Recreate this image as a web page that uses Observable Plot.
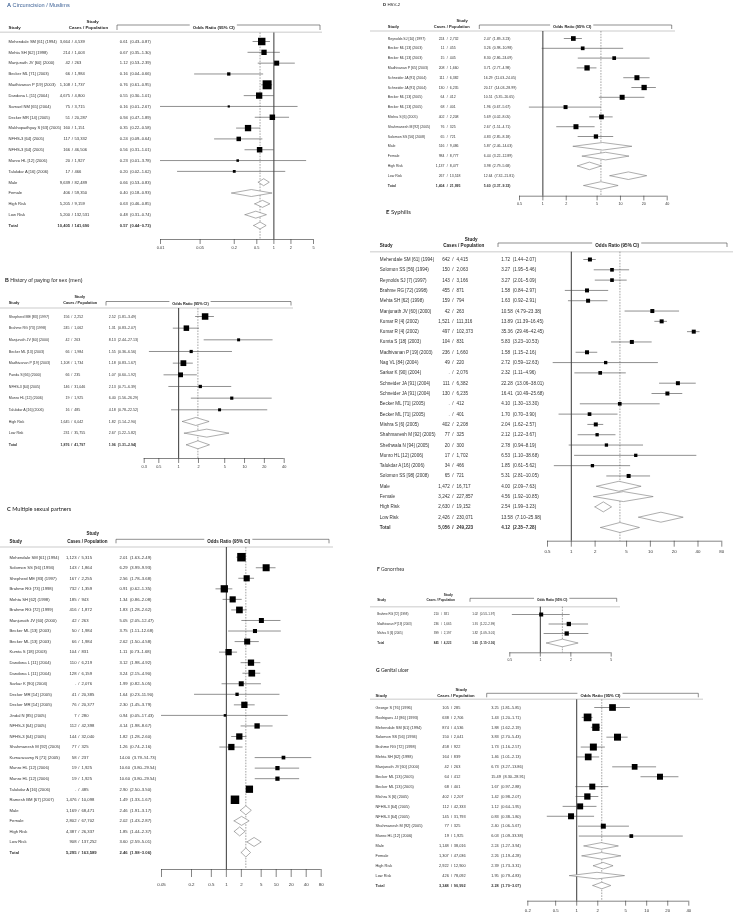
<!DOCTYPE html>
<html><head><meta charset="utf-8">
<script src="https://cdn.jsdelivr.net/npm/d3@7"></script>
<script src="https://cdn.jsdelivr.net/npm/@observablehq/plot@0.6"></script>
<style>
body{margin:0;background:#fff;}
#page{position:relative;width:736px;height:916px;overflow:hidden;font-family:"Liberation Sans",Arial,sans-serif;}
.title{position:absolute;white-space:nowrap;line-height:1;color:#222;will-change:transform;}
.panel{position:absolute;will-change:transform;}
.panel svg{overflow:visible;}
</style></head><body><div id="page"></div>
<script>
// ---------- A Circumcision / Muslims ----------
const aStudy = ["Mehendale SM [61] (1994)","Mehta SH [62] (1998)","Manjunath JV [60] (2000)","Becker ML [71] (2003)","Madhivanan P [19] (2003)","Dandona L [11] (2004)","Samuel NM [65] (2004)","Decker MR [14] (2005)","Mukhopadhyay S [63] (2005)","NFHS-3 [64] (2005)","NFHS-3 [64] (2005)","Munro HL [12] (2006)","Talukdar A [16] (2006)","Male","Female","High Risk","Low Risk","Total"];
const aCases = [3664,214,42,66,1108,4675,75,51,160,117,166,20,17,9639,406,5205,5200,10405];
const aPop = [4539,1003,263,1984,1737,4800,3715,20287,1151,53332,46506,1927,466,82489,59350,9159,132531,141690];
const aOR = [0.61,0.67,1.12,0.16,0.76,0.55,0.16,0.94,0.35,0.24,0.56,0.23,0.20,0.66,0.40,0.63,0.48,0.57];
const aLo = [0.43,0.35,0.53,0.04,0.61,0.30,0.01,0.47,0.22,0.09,0.31,0.01,0.02,0.53,0.18,0.46,0.31,0.44];
const aHi = [0.87,1.30,2.39,0.66,0.95,1.01,2.67,1.89,0.58,0.64,1.01,3.78,1.62,0.83,0.93,0.85,0.74,0.73];
const aWeight = [14.7,7.4,6.6,2.9,21.3,10.5,1.3,7.9,10.5,5.3,7.9,1.7,2.1,null,null,null,null,null];
const aTicks = [0.01,0.05,0.2,0.5,1,2,5];

// ---------- B History of paying for sex (men) ----------
const bStudy = ["Shepherd ME [83] (1997)","Brahme RG [73] (1998)","Manjunath JV [60] (2000)","Becker ML [13] (2003)","Madhivanan P [19] (2003)","Panda S [66] (2000)","NFHS-3 [64] (2005)","Munro HL [12] (2006)","Talukdar A [16] (2006)","High Risk","Low Risk","Total"];
const bCases = [156,245,42,66,1108,66,146,19,16,1645,231,1876];
const bPop = [2252,1062,263,1984,1734,235,31046,1925,485,6042,35755,41797];
const bOR = [2.52,1.31,8.13,1.55,1.18,1.07,2.13,6.40,4.18,1.82,2.67,1.96];
const bLo = [1.81,0.83,2.44,0.36,0.83,0.60,0.71,1.56,0.78,1.14,1.22,1.31];
const bHi = [3.49,2.07,27.13,6.56,1.67,1.92,6.39,26.29,22.52,2.90,5.82,2.94];
const bWeight = [23.7,17.0,5.0,5.7,18.8,12.9,6.1,5.7,5.0,null,null,null];
const bTicks = [0.3,0.5,1,2,5,10,20,40];

// ---------- C Multiple sexual partners ----------
const cStudy = ["Mehendale SM [61] (1994)","Solomon SS [56] (1994)","Shepherd ME [83] (1997)","Brahme RG [73] (1998)","Mehta SH [62] (1998)","Brahme RG [72] (1999)","Manjunath JV [60] (2000)","Becker ML [13] (2003)","Becker ML [13] (2003)","Kumta S [18] (2003)","Dandona L [11] (2004)","Dandona L [11] (2004)","Sarkar K [90] (2004)","Decker MR [14] (2005)","Decker MR [14] (2005)","Jindal N [85] (2005)","NFHS-3 [64] (2005)","NFHS-3 [64] (2005)","Shahmanesh M [92] (2005)","Kumarasamy N [71] (2005)","Munro HL [12] (2006)","Munro HL [12] (2006)","Talukdar A [16] (2006)","Ramesh BM [67] (2007)","Male","Female","High Risk","Low Risk","Total"];
const cCases = [1123,143,167,732,185,416,42,50,66,104,110,128,null,41,76,7,112,144,77,58,19,19,null,1476,1169,2802,4387,908,5295];
const cPop = [5315,1864,2255,1359,943,1872,263,1984,1984,831,6219,6159,2076,20385,20377,280,42398,32040,325,237,1925,1925,485,10098,68471,67702,26337,137252,163589];
const cOR = [2.01,6.29,2.56,0.91,1.34,1.83,5.05,3.75,2.62,1.11,3.12,3.24,1.99,1.64,2.30,0.94,4.14,1.82,1.26,14.00,10.60,10.60,2.90,1.49,2.46,2.02,1.85,3.60,2.46];
const cLo = [1.63,3.99,1.78,0.62,0.86,1.28,2.05,1.11,1.50,0.73,1.98,2.15,0.82,0.23,1.45,0.05,1.98,1.28,0.74,3.79,3.80,3.80,2.50,1.33,1.91,1.43,1.44,2.59,1.98];
const cHi = [2.49,9.93,3.68,1.35,2.08,2.62,12.47,12.68,4.58,1.68,4.92,4.90,5.05,11.90,3.79,17.43,8.67,2.60,2.16,51.73,29.54,29.54,3.50,1.67,3.17,2.87,2.37,5.01,3.06];
const cWeight = [8.4,5.7,4.4,6.2,4.4,5.2,2.9,1.9,4.2,4.6,4.6,5.2,2.9,1.3,4.6,0.8,3.3,4.6,4.6,1.6,2.1,2.1,6.2,8.4,null,null,null,null,null];
const cTicks = [0.05,0.2,0.5,1,2,5,10,20,40,80];

// ---------- D HSV-2 ----------
const dStudy = ["Reynolds SJ [10] (1997)","Becker ML [13] (2003)","Becker ML [13] (2003)","Madhivanan P [65] (2003)","Schneider JA [91] (2004)","Schneider JA [91] (2004)","Becker ML [13] (2005)","Becker ML [13] (2005)","Mishra S [6] (2005)","Shahmanesh M [92] (2005)","Solomon SS [56] (2008)","Male","Female","High Risk","Low Risk","Total"];
const dCases = [224,11,15,208,111,130,64,68,402,76,65,516,984,1137,267,1404];
const dPop = [2732,455,445,1660,6382,6235,412,401,2208,325,721,9486,8777,8477,13518,21995];
const dOR = [2.47,3.26,8.30,3.71,16.29,20.17,10.51,1.96,5.69,2.67,4.83,5.87,6.44,3.98,12.64,5.60];
const dLo = [1.89,0.98,2.86,2.77,11.03,14.03,5.35,0.67,4.02,1.51,2.85,2.46,3.22,2.79,7.32,3.37];
const dHi = [3.23,10.98,24.09,4.98,24.05,28.99,20.65,5.67,8.05,4.71,8.18,14.03,12.89,5.68,21.81,9.33];
const dWeight = [9.3,5.8,5.8,11.8,10.5,11.8,10.5,6.7,9.3,10.5,7.8,null,null,null,null,null];
const dTicks = [0.5,1,2,5,10,20,40];

// ---------- E Syphilis ----------
const eStudy = ["Mehendale SM [61] (1994)","Solomon SS [56] (1994)","Reynolds SJ [7] (1997)","Brahme RG [72] (1998)","Mehta SH [62] (1998)","Manjunath JV [60] (2000)","Kumar R [4] (2002)","Kumar R [4] (2002)","Kumta S [18] (2003)","Madhivanan P [19] (2003)","Nag VL [84] (2004)","Sarkar K [90] (2004)","Schneider JA [91] (2004)","Schneider JA [91] (2004)","Becker ML [71] (2005)","Becker ML [71] (2005)","Mishra S [6] (2005)","Shahmanesh M [92] (2005)","Shethwala N [94] (2005)","Munro HL [12] (2006)","Talukdar A [16] (2006)","Solomon SS [98] (2008)","Male","Female","High Risk","Low Risk","Total"];
const eCases = [642,150,143,455,159,42,1521,497,104,236,49,null,111,130,null,null,402,77,20,17,34,65,1472,3242,2630,2426,5056];
const ePop = [4415,2063,3166,871,794,263,111316,102373,831,1660,220,2076,6382,6235,412,401,2208,325,300,1702,466,721,16717,227857,19152,230071,249223];
const eOR = [1.72,3.27,3.27,1.58,1.63,10.58,13.89,35.36,5.83,1.58,2.72,2.32,22.28,16.41,4.10,1.70,2.04,2.12,2.78,6.53,1.85,5.31,4.00,4.56,2.54,13.58,4.12];
const eLo = [1.44,1.95,2.01,0.84,0.92,4.79,11.39,29.46,3.23,1.15,0.59,1.11,13.06,10.49,1.30,0.70,1.62,1.22,0.94,1.10,0.61,2.81,2.09,1.92,1.99,7.10,2.35];
const eHi = [2.07,5.46,5.09,2.97,2.91,23.38,16.45,42.45,10.53,2.16,12.63,4.96,38.01,25.68,13.30,3.90,2.57,3.67,8.19,38.68,5.62,10.05,7.63,10.85,3.23,25.98,7.28];
const eWeight = [5.1,4.3,4.3,5.1,5.1,5.1,5.1,5.1,5.1,5.1,3.5,4.3,5.1,5.1,4.3,4.3,5.1,3.5,3.5,3.5,3.5,5.1,null,null,null,null,null];
const eTicks = [0.5,1,2,5,10,20,40,80];

// ---------- F Gonorrhea ----------
const fStudy = ["Brahme RG [72] (1998)","Madhivanan P [19] (2003)","Mishra S [6] (2005)","Total"];
const fCases = [210,236,399,845];
const fPop = [381,1665,2197,4223];
const fOR = [1.02,1.91,1.82,1.65];
const fLo = [0.53,1.22,1.09,1.15];
const fHi = [1.97,2.99,3.01,2.36];
const fWeight = [30.2,34.9,34.9,null];
const fTicks = [0.5,1,2,5];

// ---------- G Genital ulcer ----------
const gStudy = ["George S [76] (1996)","Rodrigues JJ [86] (1993)","Mehendale SM [61] (1994)","Solomon SS [56] (1994)","Brahme RG [72] (1998)","Mehta SH [62] (1998)","Manjunath JV [60] (2000)","Becker ML [13] (2005)","Becker ML [13] (2005)","Mishra S [6] (2005)","NFHS-3 [64] (2005)","NFHS-3 [64] (2005)","Shahmanesh M [92] (2005)","Munro HL [12] (2006)","Male","Female","High Risk","Low Risk","Total"];
const gCases = [105,638,874,150,458,164,42,64,68,402,112,145,77,19,1148,1307,2922,426,3348];
const gPop = [285,2706,4536,2041,922,839,263,412,401,2207,42333,31793,325,1925,38016,47036,12900,78092,90992];
const gOR = [3.25,1.43,1.88,3.83,1.73,1.46,6.73,15.49,1.67,1.42,1.12,0.83,2.40,6.03,2.24,2.26,2.39,1.95,2.28];
const gLo = [1.81,1.20,1.62,2.70,1.16,1.01,3.27,8.30,0.97,0.98,0.64,0.38,1.06,1.09,1.27,1.19,1.73,0.79,1.70];
const gHi = [5.85,1.71,2.19,5.43,2.57,2.13,13.86,28.91,2.88,2.07,1.95,1.80,5.67,33.38,3.94,4.28,3.31,4.83,3.07];
const gWeight = [8.1,10.7,9.6,8.8,8.8,8.1,5.9,6.5,6.5,7.1,6.5,6.5,4.5,2.5,null,null,null,null,null];
const gTicks = [0.2,0.5,1,2,5,10,20,40];

// ---------- layout (page pixels) ----------
const panels = [
 {title:["A"," Circumcision / Muslims"], tx:7.3, ty:6, tfs:5.6, tcolor:"#3a5f94", tfont:"Liberation Sans",
  data:{study:aStudy,cases:aCases,pop:aPop,or:aOR,lo:aLo,hi:aHi,weight:aWeight,ticks:aTicks},
  L:{left:0,width:370,top:12,bottom:256,frameTop:32.5,frameBottom:239,row0:41,rowN:225,x0:160,x1:313,fs:4.1,hfs:4.4,tickFs:3.9,tickSize:5,tickPad:1.6,
     colStudy:8,colCasesEnd:69.5,colSlash:71.7,colPop:74,colOR:119.3,headY:25,headUpY:19.5,hStudyX:8,hCasesX:68.3,hUpX:86,
     bracketL:117,bracketR:320,bracketMid:213.3,bracketY:25,tick:5,sepY:32.3,sepL:0,sepR:322,box:9,diamond:3.5}},
 {title:["B"," History of paying for sex (men)"], tx:4.7, ty:281, tfs:5.3, tcolor:"#222", tfont:"Liberation Sans",
  data:{study:bStudy,cases:bCases,pop:bPop,or:bOR,lo:bLo,hi:bHi,weight:bWeight,ticks:bTicks},
  L:{left:0,width:370,top:286,bottom:474,frameTop:308,frameBottom:458,row0:316,rowN:444.3,x0:143.7,x1:283.7,fs:3.6,hfs:3.8,tickFs:3.8,tickSize:5,tickPad:2,
     colStudy:8.3,colCasesEnd:69,colSlash:71.3,colPop:73.7,colOR:108.3,headY:300.5,headUpY:295,hStudyX:8.3,hCasesX:62.7,hUpX:74,
     bracketL:106,bracketR:291,bracketMid:190,bracketY:301.5,tick:4,sepY:308,sepL:0,sepR:293,box:6.5,diamond:4}},
 {title:["C"," Multiple sexual partners"], tx:7.3, ty:509, tfs:5.6, tcolor:"#222", tfont:"Lato",
  data:{study:cStudy,cases:cCases,pop:cPop,or:cOR,lo:cLo,hi:cHi,weight:cWeight,ticks:cTicks},
  L:{left:0,width:370,top:518,bottom:894,frameTop:547,frameBottom:869,row0:556.7,rowN:852,x0:161,x1:320.7,fs:4.2,hfs:4.5,tickFs:4.4,tickSize:8,tickPad:5.5,
     colStudy:9,colCasesEnd:76,colSlash:78.3,colPop:81,colOR:119,headY:539.3,headUpY:531.7,hStudyX:9,hCasesX:66.7,hUpX:86,
     bracketL:116,bracketR:329,bracketMid:228.3,bracketY:539.3,tick:4,sepY:547,sepL:0,sepR:333,box:8.5,diamond:4.5}},
 {title:["D"," HSV-2"], tx:382.7, ty:5, tfs:4.4, tcolor:"#222", tfont:"Liberation Sans",
  data:{study:dStudy,cases:dCases,pop:dPop,or:dOR,lo:dLo,hi:dHi,weight:dWeight,ticks:dTicks},
  L:{left:370,width:366,top:12,bottom:212,frameTop:31,frameBottom:195.7,row0:38,rowN:185,x0:519,x1:666.7,fs:3.5,hfs:4,tickFs:3.7,tickSize:4.7,tickPad:1.6,
     colStudy:387.3,colCasesEnd:444,colSlash:446.7,colPop:449.3,colOR:483.3,headY:25,headUpY:19,hStudyX:387.3,hCasesX:433.3,hUpX:456,
     bracketL:479.3,bracketR:671.7,bracketMid:571.7,bracketY:25,tick:4,sepY:31,sepL:370,sepR:675,box:5.3,diamond:3.8}},
 {title:["E"," Syphilis"], tx:386, ty:212.7, tfs:6, tcolor:"#222", tfont:"Lato",
  data:{study:eStudy,cases:eCases,pop:ePop,or:eOR,lo:eLo,hi:eHi,weight:eWeight,ticks:eTicks},
  L:{left:370,width:366,top:230,bottom:560,frameTop:251.7,frameBottom:540.7,row0:259,rowN:527,x0:547,x1:721.3,fs:4.6,hfs:4.6,tickFs:4.4,tickSize:6,tickPad:2.5,
     colStudy:379.3,colCasesEnd:449.3,colSlash:452.3,colPop:456,colOR:500.7,headY:243,headUpY:237.7,hStudyX:379.3,hCasesX:442.7,hUpX:464.3,
     bracketL:498,bracketR:727,bracketMid:616.7,bracketY:243,tick:4,sepY:251.7,sepL:370,sepR:733,box:4,diamond:5}},
 {title:["F"," Gonorrhea"], tx:376.7, ty:570, tfs:4.9, tcolor:"#333", tfont:"Lato",
  data:{study:fStudy,cases:fCases,pop:fPop,or:fOR,lo:fLo,hi:fHi,weight:fWeight,ticks:fTicks},
  L:{left:370,width:366,top:585,bottom:668,frameTop:606.7,frameBottom:652.3,row0:614,rowN:642.5,x0:509.3,x1:610.7,fs:3,hfs:3.2,tickFs:3.4,tickSize:4.3,tickPad:1.5,
     colStudy:376.7,colCasesEnd:438.3,colSlash:441,colPop:443.3,colOR:471.7,headY:598.3,headUpY:593.3,hStudyX:376.7,hCasesX:426,hUpX:443.3,
     bracketL:470,bracketR:616.7,bracketMid:551.7,bracketY:598.3,tick:3.5,sepY:606.7,sepL:370,sepR:620,box:4.3,diamond:3.8}},
 {title:["G"," Genital ulcer"], tx:375.7, ty:671, tfs:5, tcolor:"#222", tfont:"Lato",
  data:{study:gStudy,cases:gCases,pop:gPop,or:gOR,lo:gLo,hi:gHi,weight:gWeight,ticks:gTicks},
  L:{left:370,width:366,top:678,bottom:916,frameTop:699.3,frameBottom:900.7,row0:707,rowN:885,x0:527.3,x1:688.3,fs:3.9,hfs:4.2,tickFs:4.3,tickSize:5,tickPad:3,
     colStudy:375,colCasesEnd:448.3,colSlash:451,colPop:453.3,colOR:490.7,headY:693.3,headUpY:687.7,hStudyX:375,hCasesX:436.7,hUpX:455,
     bracketL:486.7,bracketR:698.3,bracketMid:600,bracketY:693.3,tick:4,sepY:699.3,sepL:370,sepR:703,box:7.7,diamond:3.3}}
];

const INK = "#333";
const fmtN = d3.format(",");
const f2 = d3.format(".2f");

function forest(D, L) {
  const n = D.study.length;
  const rows = D.study.map((s, i) => ({i, study: s, cases: D.cases[i], pop: D.pop[i], or: D.or[i], lo: D.lo[i], hi: D.hi[i], w: D.weight[i]}));
  const studies = rows.filter(r => r.w != null);
  const summaries = rows.filter(r => r.w == null);
  const total = rows[n - 1];
  const plain = rows.filter(r => r !== total);
  const step = (L.rowN - L.row0) / (n - 1);
  const yTop = -(L.row0 - L.frameTop) / step;
  const yBot = (n - 1) + (L.frameBottom - L.rowN) / step;
  const height = L.bottom - L.top;
  const dxOf = x => x - L.x0;
  const dyOf = y => y - L.frameTop;
  const h = L.diamond / step;
  const diamonds = summaries.flatMap(r => [
    {i: r.i, x: r.lo, y: r.i}, {i: r.i, x: r.or, y: r.i - h}, {i: r.i, x: r.hi, y: r.i},
    {i: r.i, x: r.or, y: r.i + h}, {i: r.i, x: r.lo, y: r.i}]);
  const orText = r => `${f2(r.or)}  (${f2(r.lo)}\u2013${f2(r.hi)})`;
  const base = {y: "i", frameAnchor: "left", fontSize: L.fs, fill: INK};
  const textCols = (data, weight) => [
    Plot.text(data, {...base, text: "study", dx: dxOf(L.colStudy), textAnchor: "start", fontWeight: weight}),
    Plot.text(data, {...base, text: r => r.cases == null ? "." : fmtN(r.cases), dx: dxOf(L.colCasesEnd), textAnchor: "end", fontWeight: weight}),
    Plot.text(data, {...base, text: () => "/", dx: dxOf(L.colSlash), textAnchor: "middle", fontWeight: weight}),
    Plot.text(data, {...base, text: r => fmtN(r.pop), dx: dxOf(L.colPop), textAnchor: "start", fontWeight: weight}),
    Plot.text(data, {...base, text: orText, dx: dxOf(L.colOR), textAnchor: "start", fontWeight: weight})
  ];
  const head = (label, x, y, anchor) => Plot.text([label], {frameAnchor: "top-left", dx: dxOf(x), dy: dyOf(y), textAnchor: anchor, fontSize: L.hfs, fontWeight: "bold", fill: "#222"});
  const gap = L.hfs * 9.8 / 2 + 2;
  const decor = () => {
    const g = d3.create("svg:g").attr("fill", "none");
    const X = x => x - L.left, Y = y => y - L.top;
    const by = Y(L.bracketY);
    g.append("line").attr("x1", X(L.sepL)).attr("x2", X(L.sepR)).attr("y1", Y(L.sepY)).attr("y2", Y(L.sepY))
      .attr("stroke", "#dcdcdc").attr("stroke-width", 1.6);
    g.append("path")
      .attr("d", `M${X(L.bracketL)},${by + L.tick}V${by}H${X(L.bracketMid) - gap}M${X(L.bracketMid) + gap},${by}H${X(L.bracketR)}V${by + L.tick}`)
      .attr("stroke", "#444").attr("stroke-width", 0.6);
    return g.node();
  };
  const tickEnd = yBot + L.tickSize / step;
  return Plot.plot({
    width: L.width, height,
    marginTop: L.frameTop - L.top, marginBottom: L.bottom - L.frameBottom,
    marginLeft: L.x0 - L.left, marginRight: L.left + L.width - L.x1,
    style: {fontFamily: '"Liberation Sans", Arial, sans-serif', background: "transparent", color: INK},
    x: {type: "log", domain: [D.ticks[0], D.ticks[D.ticks.length - 1]], clamp: true, axis: null},
    y: {domain: [yTop, yBot], reverse: true, axis: null},
    r: {type: "sqrt", domain: [0, d3.max(studies, d => d.w)], range: [0, L.box / Math.sqrt(Math.PI)]},
    marks: [
      decor,
      Plot.ruleX([1], {stroke: "#222", strokeWidth: 0.9}),
      Plot.ruleX([total.or], {stroke: "#666", strokeWidth: 0.6, strokeDasharray: "1.6,1.2"}),
      Plot.ruleY(studies, {y: "i", x1: "lo", x2: "hi", stroke: "#444", strokeWidth: 0.6}),
      Plot.dot(studies, {x: "or", y: "i", r: "w", symbol: "square", fill: "#000"}),
      Plot.line(diamonds, {x: "x", y: "y", z: "i", stroke: "#777", strokeWidth: 0.6, fill: "white", curve: "linear"}),
      // axis: baseline, tick marks and labels from the tick list
      Plot.ruleY([yBot], {x1: D.ticks[0], x2: D.ticks[D.ticks.length - 1], stroke: "#333", strokeWidth: 0.6}),
      Plot.ruleX(D.ticks, {x: d => d, y1: yBot, y2: tickEnd, stroke: "#333", strokeWidth: 0.6}),
      Plot.text(D.ticks, {x: d => d, y: tickEnd, dy: L.tickPad, lineAnchor: "top", text: d => String(d), fontSize: L.tickFs, fill: INK}),
      ...textCols(plain, "normal"),
      ...textCols([total], "bold"),
      head("Study", L.hStudyX, L.headY, "start"),
      head("Cases / Population", L.hCasesX, L.headY, "start"),
      head("Study", L.hUpX, L.headUpY, "start"),
      head("Odds Ratio (95% CI)", L.bracketMid, L.bracketY, "middle")
    ]
  });
}

const page = document.getElementById("page");
for (const p of panels) {
  const t = document.createElement("div");
  t.className = "title";
  t.style.left = p.tx + "px";
  t.style.top = (p.ty - p.tfs * 0.55) + "px";
  t.style.fontSize = p.tfs + "px";
  t.style.color = p.tcolor;
  t.style.fontFamily = `"${p.tfont}", "Liberation Sans", Arial, sans-serif`;
  const b = document.createElement("b");
  b.textContent = p.title[0];
  t.appendChild(b);
  t.appendChild(document.createTextNode(p.title[1]));
  page.appendChild(t);
  const div = document.createElement("div");
  div.className = "panel";
  div.style.left = p.L.left + "px";
  div.style.top = p.L.top + "px";
  div.appendChild(forest(p.data, p.L));
  page.appendChild(div);
}
</script>
</body></html>
